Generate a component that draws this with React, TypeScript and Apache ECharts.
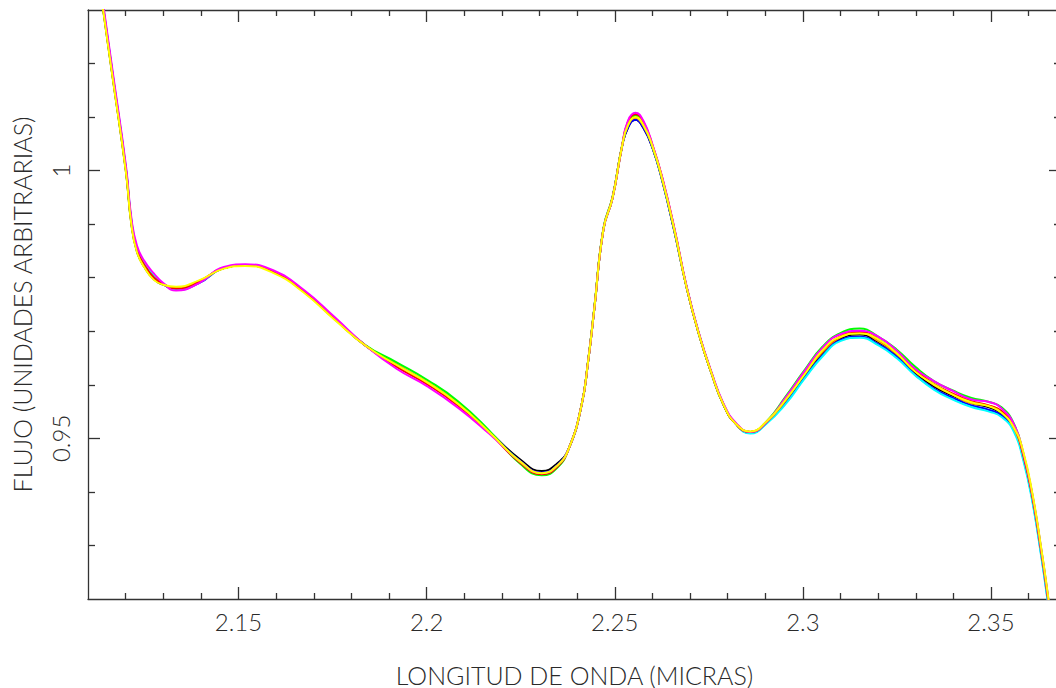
import React, { useEffect, useRef } from "react";
import * as echarts from "echarts";

// Wavelength samples (micron)
const WAVELENGTH = [
  2.11, 2.1141, 2.1166, 2.1201, 2.1215, 2.123, 2.125, 2.1275, 2.13, 2.1334,
  2.1395, 2.1461, 2.1518, 2.1592, 2.1674, 2.1756, 2.1838, 2.192, 2.2002, 2.2084,
  2.2166, 2.2248, 2.2306, 2.2347, 2.2379, 2.2412, 2.2429, 2.2445, 2.247, 2.2494,
  2.2519, 2.2535, 2.2555, 2.2576, 2.2601, 2.2626, 2.2658, 2.2691, 2.2724, 2.2757,
  2.2789, 2.2822, 2.286, 2.2904, 2.2954, 2.3003, 2.3052, 2.3101, 2.3151, 2.32,
  2.3249, 2.3298, 2.3348, 2.3397, 2.3446, 2.3495, 2.3528, 2.3561, 2.3585, 2.361,
  2.3635, 2.3651, 2.367,
];

// Common flux level
const FLUX_BASE = [
  1.051, 1.03, 1.0175, 1.0, 0.9905, 0.9852, 0.9823, 0.98, 0.9788, 0.978,
  0.9793, 0.9818, 0.9823, 0.9811, 0.9774, 0.9723, 0.9673, 0.9636, 0.9603, 0.9563,
  0.9512, 0.9458, 0.9436, 0.945, 0.9483, 0.9563, 0.9643, 0.9738, 0.9891, 0.9949,
  1.0044, 1.0087, 1.0102, 1.0087, 1.0044, 0.9985, 0.9891, 0.9782, 0.9694, 0.9622,
  0.9563, 0.9527, 0.9512, 0.9531, 0.9571, 0.9618, 0.9662, 0.9689, 0.9696, 0.9683,
  0.9658, 0.9625, 0.96, 0.9582, 0.9567, 0.956, 0.9549, 0.952, 0.9469, 0.9389,
  0.928, 0.9201, 0.91,
];

// Per-spectrum departures from the common level, in units of 0.0001
const OFF_BLACK = [
  -3, -3, -3, -3, -3, -3, -3, -3, -1, 0, 0, 0, 0, 0, 0, 0, 0, 0, 0, 0, 1, 3, 3, 3,
  0, 0, 0, 0, 0, 0, 0, -7, -7, -7, -3, -3, -3, 0, 0, 0, 0, 0, 0, 0,
  -2, -1, -3, -2, -2, -3, -1, -2, -3, -2, -1, -2, -3, -2, 0, 0, 0, 0, 0,
];
const OFF_RED = [
  0, 0, 0, 0, 0, 0, 0, 0, 0, 0, 0, 0, 0, 0, 0, 0, 0, -2, -2, -2, -1, -3, -3, -3,
  0, 0, 0, 0, 0, 0, 0, 4, 4, 4, 2, 2, 2, 0, 0, 0, 0, 0, 0, 0,
  2, 3, 1, 2, 3, 2, 1, 3, 2, 2, 3, 1, 2, 2, 2, 2, 2, 2, 2,
];
const OFF_GREEN = [
  0, 0, 0, 0, 0, 0, 0, 0, 0, 0, -1, 0, 0, 0, 0, 0, 1, 6, 6, 6, 3, -5, -5, -5,
  0, 0, 1, 2, 2, 2, 0, 1, 1, 1, 0, 0, 0, 0, 0, 0, 0, 0, 0, 1,
  7, 8, 9, 8, 9, 7, 8, 9, 7, 8, 9, 8, 9, 7, 5, 5, 5, 5, 5,
];
const OFF_BLUE = [
  2, 2, 2, 2, 2, 2, 2, 2, 0, -3, -3, 0, 0, 0, 0, 0, 0, -1, -1, -1, 0, 0, 0, 0,
  0, 0, 0, 0, 0, 0, 0, -7, -7, -7, -3, -3, -3, 0, 0, 0, 0, 0, -2, -2,
  -5, -6, -7, -5, -6, -7, -5, -6, -7, -6, -5, -7, -6, -5, -4, -4, -4, -4, -4,
];
const OFF_CYAN = [
  4, 4, 4, 4, 4, 4, 4, 4, 1, -2, -2, 0, 0, 1, 1, 1, 0, 0, 0, 0, 0, -1, -1, -1,
  0, 0, 0, 0, 0, 0, 0, 1, 1, 1, 0, 0, 0, 0, 0, 0, 0, 0, -3, -3,
  -7, -8, -9, -7, -8, -9, -8, -7, -9, -9, -8, -10, -9, -8, -8, -8, -8, -8, -8,
];
const OFF_MAGENTA = [
  8, 8, 8, 8, 8, 8, 8, 8, 2, -4, -3, 2, 2, 3, 3, 3, 0, -6, -6, -6, -3, -1, -1, -1,
  0, 0, 0, 0, 0, 0, 0, 6, 6, 6, 3, 3, 3, 2, 2, 2, 2, 2, 0, 0,
  5, 6, 7, 6, 5, 7, 6, 5, 7, 7, 6, 8, 7, 6, 6, 6, 6, 6, 6,
];
const OFF_YELLOW = [
  -4, -4, -4, -4, -4, -4, -4, -4, -1, 3, 2, -1, -1, -2, -2, -2, 0, 1, 1, 1, 0, -1, -1, -1,
  0, 0, 0, 0, 0, 0, 0, -2, -2, -2, 0, 0, 0, 0, 0, 0, 0, 0, 1, 1,
  1, 0, 2, 1, 0, 2, 1, 0, 1, 0, 1, 0, -1, 0, 8, 8, 8, 8, 8,
];
const OFF_ORANGE = [
  0, 0, 0, 0, 0, 0, 0, 0, 0, 1, 1, 0, 0, 0, 0, 0, 0, 2, 2, 2, 0, -2, -2, -2,
  0, 0, 0, 0, 0, 0, 0, -3, -3, -3, 0, 0, 0, 0, 0, 0, 0, 0, 0, 0,
  0, 1, -1, 0, 1, -1, 0, 1, 0, 0, -1, 1, 0, -1, 3, 3, 3, 3, 3,
];

const SPECTRA = [
  { name: "negro", color: "#000000", off: OFF_BLACK },
  { name: "azul", color: "#0000ff", off: OFF_BLUE },
  { name: "cian", color: "#00ffff", off: OFF_CYAN },
  { name: "naranja", color: "#ffa500", off: OFF_ORANGE },
  { name: "verde", color: "#00ff00", off: OFF_GREEN },
  { name: "rojo", color: "#ff0000", off: OFF_RED },
  { name: "magenta", color: "#ff00ff", off: OFF_MAGENTA },
  { name: "amarillo", color: "#ffff00", off: OFF_YELLOW },
];

const X_MIN = 2.11;
const X_MAX = 2.3686;
const Y_MIN = 0.92;
const Y_MAX = 1.03;
const X_MAJOR = [2.15, 2.2, 2.25, 2.3, 2.35];
const X_MINOR = [
  2.12, 2.13, 2.14, 2.16, 2.17, 2.18, 2.19, 2.21, 2.22, 2.23, 2.24, 2.26, 2.27,
  2.28, 2.29, 2.31, 2.32, 2.33, 2.34, 2.36,
];
const Y_MAJOR = [0.95, 1];
const Y_MINOR = [0.93, 0.94, 0.96, 0.97, 0.98, 0.99, 1.01, 1.02];

const X_TITLE = "LONGITUD DE ONDA (MICRAS)";
const Y_TITLE = "FLUJO (UNIDADES ARBITRARIAS)";

const FONT = "Lato";
const TEXT_COLOR = "#2a2a2a";
const AXIS_COLOR = "#333333";

export default function App() {
  const ref = useRef<HTMLDivElement>(null);

  useEffect(() => {
    if (!ref.current) return;
    const chart = echarts.init(ref.current, undefined, { renderer: "svg" });
    const fmt = (v: number) => String(Number(Number(v).toFixed(2)));
    const lineStyle = { color: AXIS_COLOR, width: 1.3 };
    const labelStyle = {
      fontFamily: FONT,
      fontWeight: 300 as any,
      fontSize: 24,
      color: TEXT_COLOR,
    };

    const xBase = {
      type: "value" as const,
      min: X_MIN,
      max: X_MAX,
      gridIndex: 0,
      splitLine: { show: false },
    };
    const yBase = {
      type: "value" as const,
      min: Y_MIN,
      max: Y_MAX,
      gridIndex: 0,
      splitLine: { show: false },
    };

    const option: any = {
      animation: false,
      backgroundColor: "#ffffff",
      grid: {
        left: 88,
        top: 10,
        right: 9,
        bottom: 89,
        containLabel: false,
        outerBoundsMode: "none",
      },
      xAxis: [
        {
          ...xBase,
          position: "bottom",
          axisLine: { show: true, onZero: false, lineStyle },
          axisTick: { show: true, inside: true, length: 12, customValues: X_MAJOR, lineStyle },
          axisLabel: { show: true, customValues: X_MAJOR, formatter: fmt, margin: 10, ...labelStyle },
          name: X_TITLE,
          nameLocation: "middle",
          nameGap: 63,
          nameTextStyle: { ...labelStyle, fontSize: 25 },
        },
        {
          ...xBase,
          position: "bottom",
          axisLine: { show: false, onZero: false },
          axisTick: { show: true, inside: true, length: 6, customValues: X_MINOR, lineStyle },
          axisLabel: { show: false },
        },
        {
          ...xBase,
          position: "top",
          axisLine: { show: true, onZero: false, lineStyle },
          axisTick: { show: true, inside: true, length: 12, customValues: X_MAJOR, lineStyle },
          axisLabel: { show: false },
        },
        {
          ...xBase,
          position: "top",
          axisLine: { show: false, onZero: false },
          axisTick: { show: true, inside: true, length: 6, customValues: X_MINOR, lineStyle },
          axisLabel: { show: false },
        },
      ],
      yAxis: [
        {
          ...yBase,
          position: "left",
          axisLine: { show: true, onZero: false, lineStyle },
          axisTick: { show: true, inside: true, length: 12, customValues: Y_MAJOR, lineStyle },
          axisLabel: { show: true, customValues: Y_MAJOR, formatter: fmt, rotate: 90, margin: 16, ...labelStyle },
          name: Y_TITLE,
          nameLocation: "middle",
          nameGap: 54,
          nameTextStyle: { ...labelStyle, fontSize: 25 },
        },
        {
          ...yBase,
          position: "left",
          axisLine: { show: false, onZero: false },
          axisTick: { show: true, inside: true, length: 7, customValues: Y_MINOR, lineStyle },
          axisLabel: { show: false },
        },
        {
          ...yBase,
          position: "right",
          axisLine: { show: true, onZero: false, lineStyle },
          axisTick: { show: true, inside: true, length: 12, customValues: Y_MAJOR, lineStyle },
          axisLabel: { show: false },
        },
        {
          ...yBase,
          position: "right",
          axisLine: { show: false, onZero: false },
          axisTick: { show: true, inside: true, length: 7, customValues: Y_MINOR, lineStyle },
          axisLabel: { show: false },
        },
      ],
      series: SPECTRA.map((s) => ({
        type: "line",
        name: s.name,
        xAxisIndex: 0,
        yAxisIndex: 0,
        data: WAVELENGTH.map((w, i) => [w, FLUX_BASE[i] + s.off[i] * 0.0001]),
        showSymbol: false,
        symbol: "none",
        smooth: 0.5,
        clip: true,
        lineStyle: { color: s.color, width: 2 },
        itemStyle: { color: s.color },
      })),
    };

    chart.setOption(option);
    return () => chart.dispose();
  }, []);

  return (
    <div
      style={{
        position: "fixed",
        left: 0,
        top: 0,
        width: 1056,
        height: 688,
        overflow: "hidden",
        background: "#fff",
      }}
    >
      <div ref={ref} style={{ width: 1070, height: 688 }} />
    </div>
  );
}
